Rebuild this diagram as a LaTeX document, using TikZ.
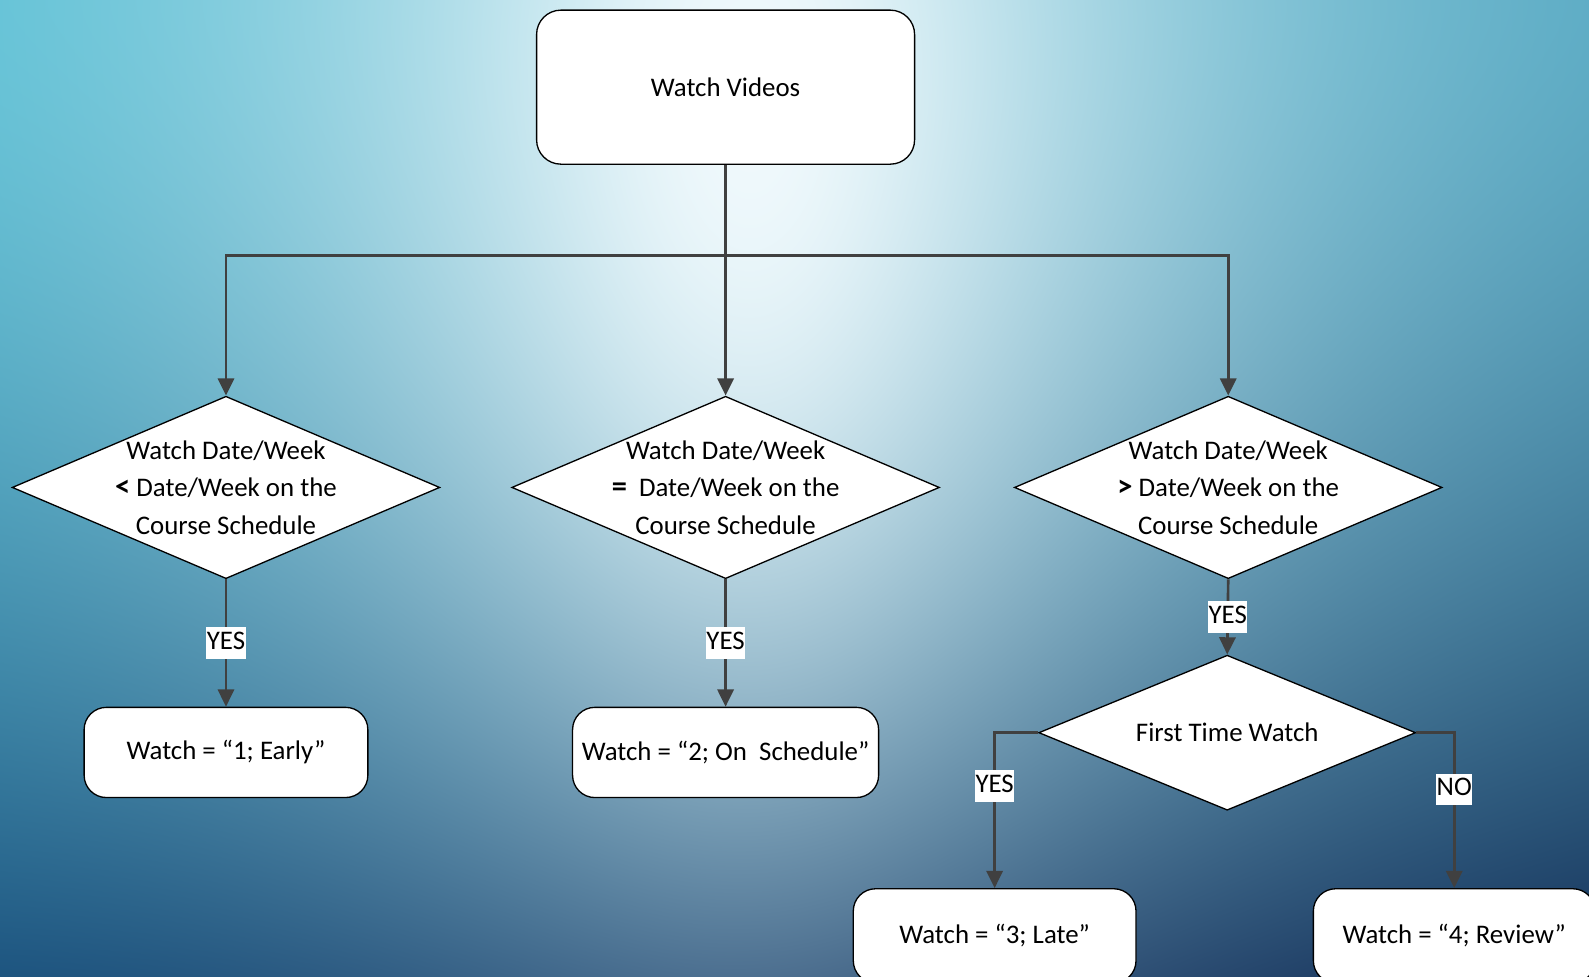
\documentclass[tikz,border=0pt]{standalone}
\usepackage{fontspec}
\setmainfont{Carlito}
\usetikzlibrary{shapes.geometric,arrows.meta}
\definecolor{linec}{HTML}{404040}
\pgfdeclarefunctionalshading{bgfun}{\pgfpoint{0bp}{0bp}}{\pgfpoint{100bp}{100bp}}{}{
 25 sub 50 div
 exch 25 sub 50 div
 exch
 1 exch sub
 dup 0 lt {pop 0} if dup 1 gt {pop 1} if
 exch dup 0 lt {pop 0} if dup 1 gt {pop 1} if exch
 1 index 1568 mul 740 sub dup mul 40000 add sqrt 200 sub 350 div neg 2.71828 exch exp
 1 index 964 mul 100 sub 760 div dup mul neg 2.71828 exch exp
 mul
 exch dup sqrt mul exch
 2 index -0.009 mul 0.280 add
 3 index -0.020 mul 0.067 add
 1 index sub 3 index mul add
 0.941 1 index sub 2 index mul add
 4 1 roll
 2 index -0.094 mul 0.720 add
 3 index -0.133 mul 0.293 add
 1 index sub 3 index mul add
 0.976 1 index sub 2 index mul add
 4 1 roll
 2 index -0.075 mul 0.812 add
 3 index -0.147 mul 0.471 add
 1 index sub 3 index mul add
 0.988 1 index sub 2 index mul add
 4 1 roll
 pop pop pop
}
\tikzset{
  base/.style={font=\fontsize{26.5}{37}\selectfont},
  box/.style={base, draw=black, line width=1.3pt, fill=white, rounded corners=22pt, inner sep=0pt},
  diam/.style={diamond, draw=black, line width=1.3pt, fill=white, inner sep=0pt, aspect=1},
  dtxt/.style={base, align=center, inner sep=0pt},
  arr/.style={draw=linec, line width=2.6pt, -{Triangle[length=17pt,width=16pt]}},
  lbl/.style={base, fill=white, inner xsep=0.5pt, inner ysep=4pt, text height=18pt, text depth=5pt},
}
\newcommand{\opsym}[1]{\textbf{\fontsize{30}{37}\selectfont #1}}
\begin{document}
\begin{tikzpicture}[x=1pt,y=-1pt]
\useasboundingbox (0,0) rectangle (1568,964);
\shade[shading=bgfun] (0,0) rectangle (1568,964);

% nodes
\node[box, minimum width=373pt, minimum height=152pt, rounded corners=24pt] (top) at (716,86) {Watch Videos};

\node[diam, minimum width=422pt, minimum height=180pt] (d1) at (223,481) {};
\node[diam, minimum width=422pt, minimum height=180pt] (d2) at (716,481) {};
\node[diam, minimum width=422pt, minimum height=180pt] (d3) at (1212,481) {};
\node[dtxt] (t1) at (223,481) {Watch Date/Week\\\opsym{<} Date/Week on the\\Course Schedule};
\node[dtxt] (t2) at (716,481) {Watch Date/Week\\\opsym{=}\ \ Date/Week on the\\Course Schedule};
\node[dtxt] (t3) at (1212,481) {Watch Date/Week\\\opsym{>} Date/Week on the\\Course Schedule};

\node[box, minimum width=280pt, minimum height=89pt] (b1) at (223,742.5) {Watch = “1; Early”};
\node[box, minimum width=302pt, minimum height=89pt] (b2) at (716,742.5) {Watch = “2; On\ \ Schedule”};

\node[diam, minimum width=372pt, minimum height=153pt] (d4) at (1211,723) {};
\node[dtxt] (t4) at (1211,723) {First Time Watch};

\node[box, minimum width=279pt, minimum height=93pt] (b3) at (981.5,923.5) {Watch = “3; Late”};
\node[box, minimum width=278pt, minimum height=93pt] (b4) at (1435,923.5) {Watch = “4; Review”};

% connectors
\coordinate (j) at (716,252);
\draw[arr] (top.south) -- (d2.north);
\draw[arr] (j) -| (d1.north);
\draw[arr] (j) -| (d3.north);
\draw[arr] (d1.south) -- node[lbl] {YES} (b1.north);
\draw[arr] (d2.south) -- node[lbl] {YES} (b2.north);
\draw[arr] (d3.south) -- node[lbl] {YES} (d4.north);
\draw[arr] (d4.west) -| node[lbl, pos=0.672] {YES} (b3.north);
\draw[arr] (d4.east) -| node[lbl, pos=0.682] {NO} (b4.north);
\end{tikzpicture}
\end{document}
